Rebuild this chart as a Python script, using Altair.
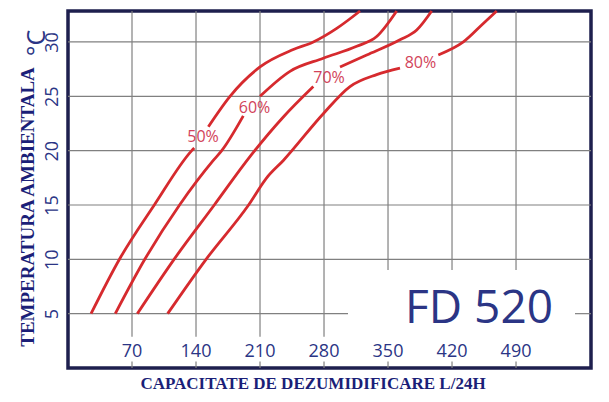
import altair as alt
import pandas as pd

# ---------------- data ----------------
x_ticks = [70, 140, 210, 280, 350, 420, 490]
y_ticks = [5, 10, 15, 20, 25, 30]

rh_names = ["50%", "60%", "70%", "80%"]
label_x = [147.7, 204.0, 285.5, 385.5]
label_y = [21.26, 23.9, 26.7, 28.06]

# each curve = lower segment + upper segment (gap holds the % label)
c50_lo_x = [25.2, 56.9, 94.4, 135.3, 138.1]
c50_lo_y = [5.0, 10.1, 15.0, 20.0, 20.25]
c50_hi_x = [153.5, 177.2, 210.0, 246.4, 268.3, 293.9, 319.4]
c50_hi_y = [22.2, 25.0, 27.7, 29.3, 30.0, 31.25, 32.85]

c60_lo_x = [51.7, 84.0, 122.0, 158.9, 168.1, 191.7]
c60_lo_y = [5.0, 10.0, 15.0, 19.1, 20.0, 23.2]
c60_hi_x = [210.0, 242.8, 279.2, 315.8, 337.6, 359.5]
c60_hi_y = [25.0, 27.3, 28.5, 29.6, 30.5, 32.85]

c70_lo_x = [75.8, 116.0, 160.0, 199.0, 235.5, 268.3]
c70_lo_y = [5.0, 10.0, 15.0, 19.45, 23.1, 25.9]
c70_hi_x = [297.5, 326.7, 363.1, 381.4, 397.8]
c70_hi_y = [27.7, 28.8, 30.2, 31.1, 32.85]

c80_lo_x = [109.0, 151.0, 197.5, 217.3, 235.5, 279.2, 308.4, 337.6, 363.1]
c80_lo_y = [5.0, 10.0, 15.0, 17.5, 19.1, 23.4, 25.9, 27.0, 27.6]
c80_hi_x = [405.0, 432.4, 454.2, 468.9]
c80_hi_y = [28.8, 30.0, 31.7, 32.85]

model_name = "FD 520"
x_title = "CAPACITATE DE DEZUMIDIFICARE L/24H"
y_title = "TEMPERATURA AMBIENTALA"
y_unit = "°C"

# ---------------- styling ----------------
W, H = 523, 357
X_DOMAIN = [0, 572]
Y_DOMAIN = [0, 32.85]
LINE_RED = "#d62a2e"
LABEL_RED = "#d2435a"
NAVY = "#2b3585"
TITLE_NAVY = "#1b1f78"
GRID = "#808080"
FRAME = "#1e1f4e"

xs = alt.Scale(domain=X_DOMAIN, nice=False, zero=False)
ys = alt.Scale(domain=Y_DOMAIN, nice=False, zero=False)
y_axis = alt.Axis(values=y_ticks, grid=False, ticks=False, tickSize=0, domain=False,
                  labelAngle=270, labelFont="Open Sans", labelFontSize=18,
                  labelColor=NAVY, labelPadding=7, title=None)


def X(f):
    return alt.X(f, type="quantitative", scale=xs, axis=None)


def Y(f):
    return alt.Y(f, type="quantitative", scale=ys, axis=y_axis)


# curves table
rows = []
curves = [
    ("50%", c50_lo_x, c50_lo_y, c50_hi_x, c50_hi_y),
    ("60%", c60_lo_x, c60_lo_y, c60_hi_x, c60_hi_y),
    ("70%", c70_lo_x, c70_lo_y, c70_hi_x, c70_hi_y),
    ("80%", c80_lo_x, c80_lo_y, c80_hi_x, c80_hi_y),
]
for name, lx, ly, hx, hy in curves:
    for i, (a, b) in enumerate(zip(lx, ly)):
        rows.append({"seg": name + "_lo", "i": i, "x": a, "y": b})
    for i, (a, b) in enumerate(zip(hx, hy)):
        rows.append({"seg": name + "_hi", "i": i, "x": a, "y": b})
curve_df = pd.DataFrame(rows)

xt = pd.DataFrame({"v": x_ticks, "lab": [str(v) for v in x_ticks]})
xt_left = xt[xt.v <= 280]
xt_right = xt[xt.v > 280]
yt_full = pd.DataFrame({"v": [v for v in y_ticks if v != 5]})
yt_5 = pd.DataFrame({"v": [5]})
lab_df = pd.DataFrame({"t": rh_names, "x": label_x, "y": label_y})

vgrid_l = alt.Chart(xt_left).mark_rule(color=GRID, strokeWidth=1.2).encode(
    x=X("v"), y=alt.value(0), y2=alt.value(325.7))
vgrid_r = alt.Chart(xt_right).mark_rule(color=GRID, strokeWidth=1.2).encode(
    x=X("v"), y=alt.value(0), y2=alt.value(259))
hgrid = alt.Chart(yt_full).mark_rule(color=GRID, strokeWidth=1.2).encode(
    y=Y("v"), x=alt.value(0), x2=alt.value(W))
hgrid5a = alt.Chart(yt_5).mark_rule(color=GRID, strokeWidth=1.2).encode(
    y=Y("v"), x=alt.value(0), x2=alt.value(280))
hgrid5b = alt.Chart(yt_5).mark_rule(color=GRID, strokeWidth=1.2).encode(
    y=Y("v"), x=alt.value(507), x2=alt.value(W))
xticks = alt.Chart(xt).mark_rule(color=GRID, strokeWidth=1.2).encode(
    x=X("v"), y=alt.value(H - 6.6), y2=alt.value(H))
xlabels = alt.Chart(xt).mark_text(font="Open Sans", fontSize=18, color=NAVY,
                                  align="center", baseline="alphabetic").encode(
    x=X("v"), y=alt.value(345.5), text="lab:N")

lines = alt.Chart(curve_df).mark_line(color=LINE_RED, strokeWidth=2.8,
                                      interpolate="monotone").encode(
    x=X("x"), y=Y("y"), detail="seg:N", order="i:Q")

pct = alt.Chart(lab_df).mark_text(font="Open Sans", fontSize=16, color=LABEL_RED,
                                  align="center", baseline="middle").encode(
    x=X("x"), y=Y("y"), text="t:N")

model = alt.Chart(pd.DataFrame({"t": [model_name]})).mark_text(
    font="Open Sans", fontSize=46, color=NAVY, align="center", baseline="alphabetic").encode(
    x=alt.value(411), y=alt.value(312), text="t:N")

ytitle = alt.Chart(pd.DataFrame({"t": [y_title]})).mark_text(
    font="Liberation Serif", fontWeight="bold", fontSize=19, color=TITLE_NAVY,
    angle=270, align="center", baseline="middle").encode(
    x=alt.value(-40.5), y=alt.value(196), text="t:N")
yunit = alt.Chart(pd.DataFrame({"t": [y_unit]})).mark_text(
    font="Open Sans", fontSize=25, color=NAVY,
    angle=270, align="center", baseline="middle").encode(
    x=alt.value(-31), y=alt.value(32), text="t:N")
xtitle = alt.Chart(pd.DataFrame({"t": [x_title]})).mark_text(
    font="Liberation Serif", fontWeight="bold", fontSize=17, color=TITLE_NAVY,
    align="center", baseline="middle").encode(
    x=alt.value(245), y=alt.value(373), text="t:N")

chart = alt.layer(
    vgrid_l, vgrid_r, hgrid, hgrid5a, hgrid5b, xticks,
    lines, pct, xlabels, model, ytitle, yunit, xtitle,
).properties(
    width=W, height=H,
    autosize=alt.AutoSizeParams(type="none"),
    padding={"left": 60, "top": 3, "right": 8, "bottom": 24},
    background="white",
).configure_view(
    stroke=FRAME, strokeWidth=3.5
)

chart.save("out.html", embed_options={"renderer": "svg", "actions": False})
